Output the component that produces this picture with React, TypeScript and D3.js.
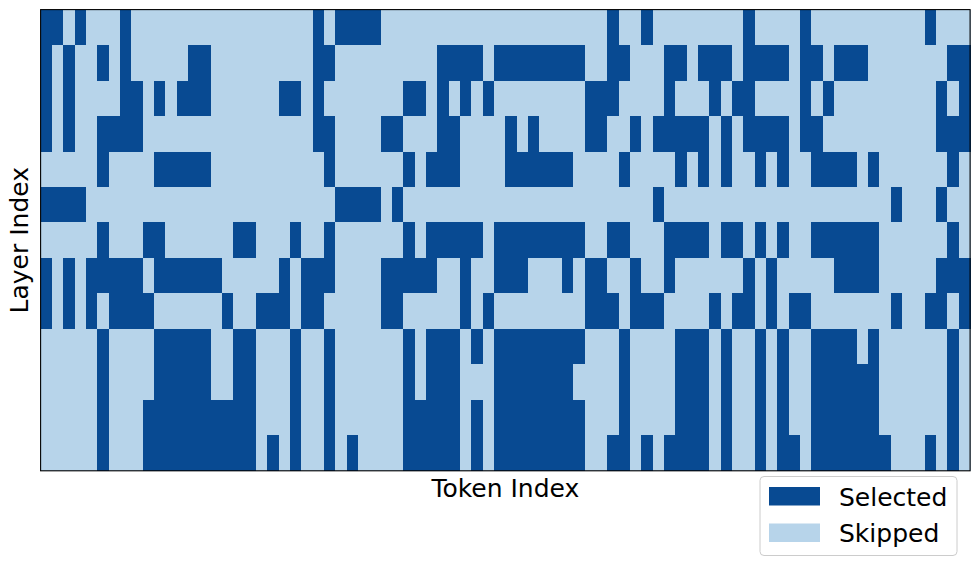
import React from "react";
import * as d3 from "d3";

// Selected token indices for each layer (layer 0 at the top), 82 tokens, 13 layers
const numTokens = 82;
const layerSelected: number[][] = [
  [0, 1, 3, 7, 24, 26, 27, 28, 29, 50, 53, 62, 67, 78],
  [0, 2, 5, 7, 13, 14, 24, 25, 35, 36, 37, 38, 40, 41, 42, 43, 44, 45, 46, 47, 50, 51, 55, 56, 58, 59, 60, 62, 63, 64, 65, 67, 68, 70, 71, 72, 80, 81],
  [0, 2, 7, 8, 10, 12, 13, 14, 21, 22, 24, 32, 33, 35, 37, 39, 48, 49, 50, 55, 59, 61, 62, 67, 69, 79, 81],
  [0, 2, 5, 6, 7, 8, 24, 25, 30, 31, 35, 36, 41, 43, 48, 49, 52, 54, 55, 56, 57, 58, 60, 62, 63, 64, 65, 67, 68, 79, 80, 81],
  [5, 10, 11, 12, 13, 14, 25, 32, 34, 35, 36, 41, 42, 43, 44, 45, 46, 51, 56, 58, 60, 63, 65, 68, 69, 70, 71, 73, 80],
  [0, 1, 2, 3, 26, 27, 28, 29, 31, 54, 75, 79],
  [5, 9, 10, 17, 18, 22, 25, 32, 34, 35, 36, 37, 38, 40, 41, 42, 43, 44, 45, 46, 47, 50, 51, 55, 56, 57, 58, 60, 61, 63, 65, 68, 69, 70, 71, 72, 73, 80],
  [0, 2, 4, 5, 6, 7, 8, 10, 11, 12, 13, 14, 15, 21, 23, 24, 25, 30, 31, 32, 33, 34, 37, 40, 41, 42, 46, 48, 49, 52, 55, 62, 64, 70, 71, 72, 73, 79, 80, 81],
  [0, 2, 4, 6, 7, 8, 9, 16, 19, 20, 21, 23, 24, 30, 31, 37, 39, 48, 49, 50, 52, 53, 54, 59, 61, 62, 64, 66, 67, 75, 78, 79, 81],
  [5, 10, 11, 12, 13, 14, 17, 18, 22, 25, 32, 34, 35, 36, 38, 40, 41, 42, 43, 44, 45, 46, 47, 51, 56, 57, 58, 60, 63, 65, 68, 69, 70, 71, 73, 80],
  [5, 10, 11, 12, 13, 14, 17, 18, 22, 25, 32, 34, 35, 36, 40, 41, 42, 43, 44, 45, 46, 51, 56, 57, 58, 60, 63, 65, 68, 69, 70, 71, 72, 73, 80],
  [5, 9, 10, 11, 12, 13, 14, 15, 16, 17, 18, 22, 25, 32, 33, 34, 35, 36, 38, 40, 41, 42, 43, 44, 45, 46, 47, 51, 56, 57, 58, 60, 63, 65, 68, 69, 70, 71, 72, 73, 80],
  [5, 9, 10, 11, 12, 13, 14, 15, 16, 17, 18, 20, 22, 25, 27, 32, 33, 34, 35, 36, 38, 40, 41, 42, 43, 44, 45, 46, 47, 50, 51, 53, 55, 56, 57, 58, 60, 63, 65, 66, 68, 69, 70, 71, 72, 73, 74, 78, 80],
];
const legendLabels = ["Selected", "Skipped"];
const xLabel = "Token Index";
const yLabel = "Layer Index";

const COLOR_SEL = "#084a92";
const COLOR_SKIP = "#b7d4ea";
const FONT = "DejaVu Sans, sans-serif";

export default function App() {
  const W = 979, H = 566;
  const left = 40.6, right = 970.1, top = 9.6, bottom = 470.8;
  const tokens = d3.range(numTokens);
  const layers = d3.range(layerSelected.length);
  const x = d3.scaleBand<number>().domain(tokens).range([left, right]).padding(0);
  const y = d3.scaleBand<number>().domain(layers).range([top, bottom]).padding(0);

  const cells: { l: number; t: number; sel: boolean }[] = [];
  layers.forEach((l) => {
    const s = new Set(layerSelected[l]);
    tokens.forEach((t) => cells.push({ l, t, sel: s.has(t) }));
  });

  const legX = 760, legY = 476.5;
  return (
    <svg width={W} height={H} style={{ position: "absolute", left: 0, top: 0 }} xmlns="http://www.w3.org/2000/svg">
      <rect x={0} y={0} width={W} height={H} fill="#fff" />
      <g shapeRendering="crispEdges">
        {cells.map((c) => (
          <rect key={`${c.l}-${c.t}`} x={x(c.t)} y={y(c.l)} width={x.bandwidth() + 0.5} height={y.bandwidth() + 0.5}
            fill={c.sel ? COLOR_SEL : COLOR_SKIP} />
        ))}
      </g>
      <rect x={left} y={top} width={right - left} height={bottom - top} fill="none" stroke="#000" strokeWidth={1.1} />
      <text x={(left + right) / 2} y={497} textAnchor="middle" fontFamily={FONT} fontSize={25} fill="#000">{xLabel}</text>
      <text transform={`translate(28,${(top + bottom) / 2}) rotate(-90)`} textAnchor="middle" fontFamily={FONT} fontSize={25} fill="#000">{yLabel}</text>
      <rect x={legX} y={legY} width={197} height={79} rx={4} fill="#fff" fillOpacity={0.8} stroke="#cccccc" strokeWidth={1} />
      {legendLabels.map((lab, i) => (
        <g key={lab}>
          <rect x={769} y={487 + i * 36.5} width={51} height={18.5} fill={i === 0 ? COLOR_SEL : COLOR_SKIP} />
          <text x={839} y={505.5 + i * 36.5} fontFamily={FONT} fontSize={25} fill="#000">{lab}</text>
        </g>
      ))}
    </svg>
  );
}
